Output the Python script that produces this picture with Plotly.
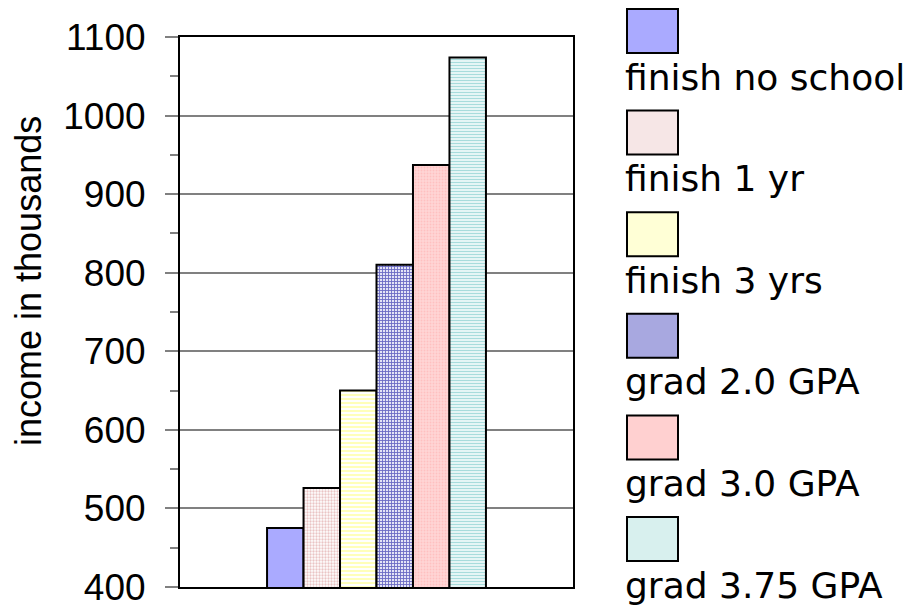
import plotly.graph_objects as go

# ---- data ----
categories = [""]
series_names = ["finish no school", "finish 1 yr", "finish 3 yrs",
                "grad 2.0 GPA", "grad 3.0 GPA", "grad 3.75 GPA"]
series_values = [475, 526, 650, 810, 937, 1074]
y_tick_values = [400, 500, 600, 700, 800, 900, 1000, 1100]
y_title = "income in thousands"

# ---- styles ----
FONT = "DejaVu Sans, Liberation Sans, Arial, sans-serif"
ARIAL = "Liberation Sans, Arial, sans-serif"
W, H = 914, 606
OFF = 8  # default page body margin
L, R, T, B = 180, 573, 37, 587  # plot area in page pixels

patterns = [
    dict(color="#aaaaff", pattern=None),
    dict(color="#ffffff", pattern=dict(shape=".", fgcolor="#eac4c4", bgcolor="#ffffff", size=3, solidity=0.45, fillmode="replace")),
    dict(color="#ffffff", pattern=dict(shape="-", fgcolor="#ffff8c", bgcolor="#ffffff", size=4, solidity=0.3, fillmode="replace")),
    dict(color="#ffffff", pattern=dict(shape="+", fgcolor="#6a6ac4", bgcolor="#e4e4f6", size=3, solidity=0.5, fillmode="replace")),
    dict(color="#ffd0d0", pattern=dict(shape=".", fgcolor="#ffc0c0", bgcolor="#ffd6d6", size=3, solidity=0.3, fillmode="replace")),
    dict(color="#ffffff", pattern=dict(shape="-", fgcolor="#a8dcdc", bgcolor="#f2fbfb", size=3, solidity=0.45, fillmode="replace")),
]
swatch_colors = ["#aaaaff", "#f6e6e6", "#ffffd6", "#a8a8e0", "#ffd0d0", "#d8f0ee"]

fig = go.Figure()
for name, val, st in zip(series_names, series_values, patterns):
    marker = dict(color=st["color"], line=dict(color="black", width=2))
    if st["pattern"] is not None:
        marker["pattern"] = st["pattern"]
    fig.add_trace(go.Bar(x=categories, y=[val], name=name, marker=marker,
                         showlegend=False))


def px_x(px):
    return (px - L) / (R - L)


def px_y(py):
    return (B - py) / (B - T)


shapes = []
annotations = []
for i, (name, col) in enumerate(zip(series_names, swatch_colors)):
    top = 9 + 101.6 * i
    shapes.append(dict(type="rect", xref="paper", yref="paper",
                       x0=px_x(627), x1=px_x(678), y0=px_y(top + 44), y1=px_y(top),
                       fillcolor=col, line=dict(color="black", width=2)))
    annotations.append(dict(xref="paper", yref="paper", x=px_x(623), y=px_y(77 + 101.6 * i),
                            xanchor="left", yanchor="middle", text=name, showarrow=False,
                            font=dict(family=FONT, size=36, color="black")))

# y-axis title (placed like the original, slightly above the axis centre)
annotations.append(dict(xref="paper", yref="paper", x=px_x(28), y=px_y(281),
                        xanchor="center", yanchor="middle", textangle=-90,
                        text=y_title, showarrow=False,
                        font=dict(family=ARIAL, size=36, color="black")))

fig.update_layout(
    width=W, height=H,
    margin=dict(l=L - OFF, r=W - (R - OFF), t=T - OFF, b=H - (B - OFF), autoexpand=False),
    paper_bgcolor="white", plot_bgcolor="white",
    barmode="group", bargap=0.443, bargroupgap=0,
    font=dict(family=FONT, size=36, color="black"),
    shapes=shapes, annotations=annotations,
    xaxis=dict(showline=True, linecolor="black", linewidth=2, mirror=True,
               showticklabels=False, ticks="", showgrid=False, automargin=False),
    yaxis=dict(range=[400, 1100], tickvals=y_tick_values, showgrid=True,
               gridcolor="#808080", gridwidth=2,
               ticks="outside", ticklen=13, tickcolor="#808080", tickwidth=2,
               ticklabelstandoff=12, automargin=False,
               tickfont=dict(family=ARIAL, size=37, color="black"),
               showline=True, linecolor="black", linewidth=2, mirror=True,
               zeroline=False,
               minor=dict(dtick=50, ticks="outside", ticklen=8, tickcolor="#808080",
                          tickwidth=2, showgrid=False)),
    yaxis2=dict(range=[400, 1100], overlaying="y", anchor="x", side="left",
                showgrid=False, showticklabels=False, ticks="", zeroline=False,
                showline=False, automargin=False,
                minor=dict(dtick=50, ticks="inside", ticklen=8, tickcolor="#808080",
                           tickwidth=2, showgrid=False)),
)

fig.write_html("out.html")
